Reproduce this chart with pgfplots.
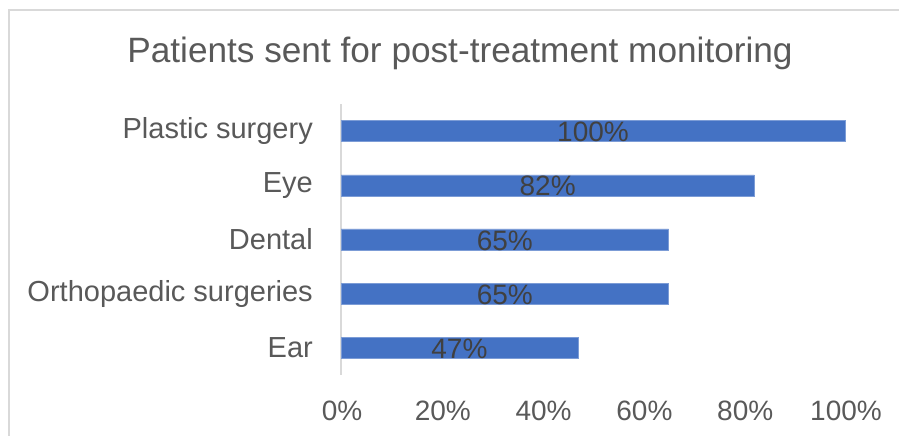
\documentclass[border=0pt]{standalone}
\usepackage{pgfplots}
\pgfplotsset{compat=1.18}
\usepackage{pgfplotstable}
\usepackage{fontspec}
\setmainfont{Liberation Sans}
\definecolor{barblue}{HTML}{4472C4}
\definecolor{txtgrey}{HTML}{595959}
\definecolor{lblgrey}{HTML}{404040}
\definecolor{linegrey}{HTML}{D9D9D9}
\pgfplotstableread{
y v
0 47
1 65
2 65
3 82
4 100
}\data
\begin{document}
\begin{tikzpicture}[x=1pt,y=1pt]
\clip (0,0) rectangle (899,436);
\path[use as bounding box] (0,0) rectangle (899,436);
\draw[linegrey, line width=1.2pt] (9,-10) -- (9,426) -- (910,426);
\node[anchor=base, text=txtgrey, font=\fontsize{35.2}{42}\selectfont, inner sep=0pt] at (460,373) {Patients sent for post-treatment monitoring};
\begin{axis}[
 at={(341pt,61pt)}, anchor=south west,
 scale only axis, width=504pt, height=271pt,
 xmin=0, xmax=100, ymin=-0.5, ymax=4.5,
 axis y line*=left, axis x line*=bottom,
 x axis line style={draw=none},
 y axis line style={draw=linegrey, line width=1.2pt},
 xtick={0,20,...,100},
 xticklabel={\pgfmathprintnumber{\tick}\%},
 ytick={0,...,4},
 yticklabels={Ear,Orthopaedic surgeries,Dental,Eye,Plastic surgery},
 major tick length=0pt,
 tick label style={text=txtgrey, inner sep=0pt},
 xticklabel style={font=\fontsize{28}{34}\selectfont, anchor=north, yshift=-26pt, xshift=1pt},
 yticklabel style={font=\fontsize{29}{35}\selectfont, anchor=east, xshift=-28pt},
 /pgf/number format/assume math mode=true,
 clip=false,
]
\addplot[xbar, bar width=21pt, fill=barblue, draw=barblue!70!white, line width=0.4pt] table[x=v, y=y] {\data};
\addplot[draw=none, mark=none, x filter/.expression={x/2}, point meta=rawx,
  nodes near coords={\pgfmathprintnumber{\pgfplotspointmeta}\%},
  every node near coord/.style={anchor=center, text=lblgrey, font=\fontsize{28}{34}\selectfont, inner sep=0pt, yshift=-1pt}] table[x=v, y=y] {\data};
\end{axis}
\end{tikzpicture}
\end{document}
